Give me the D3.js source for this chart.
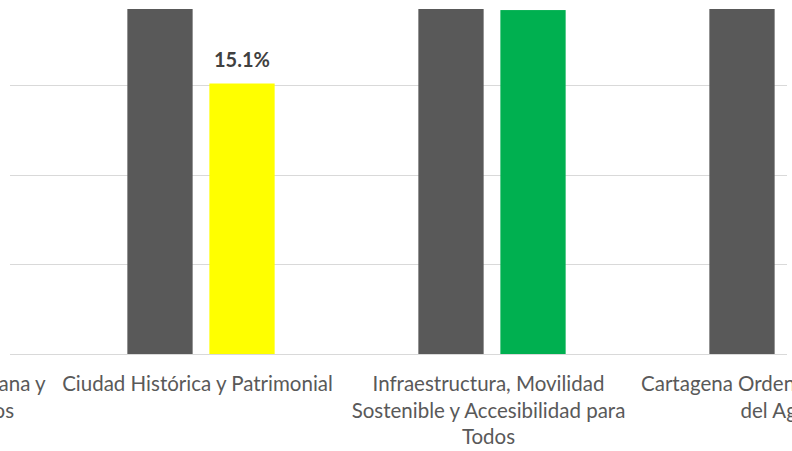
<!DOCTYPE html>
<html><head><meta charset="utf-8">
<script src="https://cdn.jsdelivr.net/npm/d3@7"></script>
<style>body{margin:0;background:#fff;overflow:hidden} svg{display:block}</style>
</head><body>
<script>
// ---- data ----
const categories = ["Seguridad Integral Ciudadana y Convivencia y Derechos", "Ciudad Histórica y Patrimonial", "Infraestructura, Movilidad Sostenible y Accesibilidad para Todos", "Cartagena Ordenada alrededor del Agua"];
const categoryLines = [["Seguridad Integral Ciudadana y", "Convivencia y Derechos"], ["Ciudad Histórica y Patrimonial"], ["Infraestructura, Movilidad", "Sostenible y Accesibilidad para", "Todos"], ["Cartagena Ordenada alrededor", "del Agua"]];
const seriesNames = ["Meta", "Avance"];
const metaValues = [25, 25, 25, 25];
const avanceValues = [null, 15.1, 19.2, null];
const avanceColors = ["#a5a5a5", "#ffff00", "#00b050", "#a5a5a5"];
const metaColor = "#595959";
const yTicks = [0, 5, 10, 15, 20];

// ---- layout ----
const W = 792, H = 451;
const svg = d3.select("body").append("svg").attr("width", W).attr("height", H);
const plot = {left: 10, right: 787, top: 9, bottom: 354};

const x = d3.scaleBand().domain(categories).range([-235.5, -235.5 + 291 * categories.length]).paddingInner(0).paddingOuter(0);
const x1 = d3.scaleBand().domain(seriesNames).range([71.85, 219.15]).paddingInner(0.204).paddingOuter(0);
const y = d3.scaleLinear().domain([0, 15]).range([354, 85.3]);

svg.append("defs").append("clipPath").attr("id", "pc")
  .append("rect").attr("x", plot.left).attr("y", plot.top)
  .attr("width", plot.right - plot.left).attr("height", plot.bottom - plot.top);

// gridlines
svg.append("g").selectAll("line").data(yTicks.filter(t => t > 0 && y(t) >= plot.top)).join("line")
  .attr("x1", plot.left).attr("x2", plot.right)
  .attr("y1", d => Math.round(y(d)) + 0.5).attr("y2", d => Math.round(y(d)) + 0.5)
  .attr("stroke", "#d9d9d9").attr("stroke-width", 1);

// bars
const rows = categories.map((c, i) => ({c, i, vals: [
  {s: seriesNames[0], v: metaValues[i], color: metaColor},
  {s: seriesNames[1], v: avanceValues[i], color: avanceColors[i]}
]}));
const gBars = svg.append("g").attr("clip-path", "url(#pc)");
rows.forEach(r => {
  gBars.selectAll(null).data(r.vals.filter(d => d.v != null)).join("rect")
    .attr("x", d => x(r.c) + x1(d.s))
    .attr("width", x1.bandwidth())
    .attr("y", d => y(d.v))
    .attr("height", d => y(0) - y(d.v))
    .attr("fill", d => d.color);
});

// axis line
svg.append("line").attr("x1", plot.left).attr("x2", plot.right)
  .attr("y1", Math.round(y(0)) + 0.5).attr("y2", Math.round(y(0)) + 0.5)
  .attr("stroke", "#d9d9d9").attr("stroke-width", 1);

// data labels (series 2), only those that fall inside the visible plot area
const labelData = categories.map((c, i) => ({c, v: avanceValues[i]}))
  .filter(d => d.v != null && y(d.v) - 34 >= plot.top);
svg.append("g").selectAll("text").data(labelData).join("text")
  .attr("x", d => x(d.c) + x1(seriesNames[1]) + x1.bandwidth() / 2)
  .attr("y", d => y(d.v) - 17)
  .attr("text-anchor", "middle")
  .attr("font-family", "Lato, 'Open Sans', sans-serif")
  .attr("font-weight", "bold").attr("font-size", 20).attr("fill", "#404040")
  .text(d => d.v.toFixed(1) + "%");

// category labels
const gLab = svg.append("g")
  .attr("font-family", "Lato, 'Open Sans', sans-serif")
  .attr("font-size", 20.5).attr("fill", "#595959").attr("text-anchor", "middle");
categories.forEach((c, i) => {
  const cx = x(c) + x.bandwidth() / 2 - 3.5;
  const t = gLab.append("text").attr("x", cx).attr("y", 391);
  categoryLines[i].forEach((ln, k) => {
    t.append("tspan").attr("x", cx).attr("y", 391 + k * 26.5).text(ln);
  });
});
</script>
</body></html>
